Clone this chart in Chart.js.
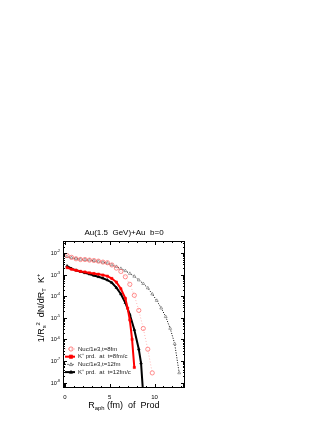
<!DOCTYPE html>
<html>
<head>
<meta charset="utf-8">
<script src="https://cdn.jsdelivr.net/npm/chart.js@4"></script>
<style>
  html, body { margin: 0; padding: 0; background: #fff; }
  #wrap { width: 332px; height: 430px; }
</style>
</head>
<body>
<div id="wrap"><canvas id="c" width="332" height="430"></canvas></div>
<script>
// Nucleons / 1e3 at t = 8 fm (red open circles, dotted)
const nuc8X = [0.25, 0.75, 1.25, 1.75, 2.25, 2.75, 3.25, 3.75, 4.25, 4.75,
               5.25, 5.75, 6.25, 6.75, 7.25, 7.75, 8.25, 8.75, 9.25, 9.75];
const nuc8Y = [7.6e-3, 6.3e-3, 5.4e-3, 5.0e-3, 5.0e-3, 4.7e-3, 4.5e-3, 4.2e-3, 3.8e-3, 3.55e-3,
               2.8e-3, 2.0e-3, 1.4e-3, 7.9e-4, 3.55e-4, 1.1e-4, 2.2e-5, 3.2e-6, 3.5e-7, 2.8e-8];

// K+ produced at t = 8 fm/c (red squares, solid)
const kp8X = [0.25, 0.75, 1.25, 1.75, 2.25, 2.75, 3.25, 3.75, 4.25, 4.75,
              5.25, 5.75, 6.25, 6.75, 7.0, 7.25, 7.5, 7.75];
const kp8Y = [2.1e-3, 1.78e-3, 1.58e-3, 1.41e-3, 1.32e-3, 1.2e-3, 1.12e-3, 1.05e-3, 9.5e-4, 8.5e-4,
              6.6e-4, 4.5e-4, 2.2e-4, 7.9e-5, 2.8e-5, 7.9e-6, 1.0e-6, 5.0e-8];

// Nucleons / 1e3 at t = 12 fm (small open triangles, dotted black)
const nuc12X = [0.25, 0.75, 1.25, 1.75, 2.25, 2.75, 3.25, 3.75, 4.25, 4.75, 5.25, 5.75, 6.25,
                6.75, 7.25, 7.75, 8.25, 8.75, 9.25, 9.75, 10.25, 10.75, 11.25, 11.75, 12.25, 12.75];
const nuc12Y = [6.8e-3, 6.0e-3, 5.5e-3, 5.1e-3, 4.9e-3, 4.7e-3, 4.4e-3, 4.1e-3, 3.7e-3, 3.4e-3, 2.8e-3, 2.35e-3, 1.9e-3,
                1.5e-3, 1.12e-3, 8.3e-4, 5.6e-4, 3.8e-4, 2.4e-4, 1.26e-4, 6.3e-5, 2.8e-5, 1.12e-5, 3.2e-6, 6.3e-7, 2.8e-8];

// K+ produced at t = 12 fm/c (black triangles, solid)
const kp12X = [0.25, 0.75, 1.25, 1.75, 2.25, 2.75, 3.25, 3.75, 4.25, 4.75,
               5.25, 5.75, 6.25, 6.75, 7.25, 7.75, 8.25, 8.5, 8.75];
const kp12Y = [2.5e-3, 1.9e-3, 1.58e-3, 1.38e-3, 1.2e-3, 1.05e-3, 9.1e-4, 7.9e-4, 6.8e-4, 5.6e-4,
               4.2e-4, 2.5e-4, 1.26e-4, 5.0e-5, 1.41e-5, 2.8e-6, 3.5e-7, 7.9e-8, 2.5e-9];

const labels = ['Nuc/1e3,t=8fm', 'K\u207A prd.  at  t=8fm/c', 'Nuc/1e3,t=12fm', 'K\u207A prd.  at  t=12fm/c'];

const xTickValues = [0, 5, 10];
const xTickLabels = ['0', '5', '10'];
const yTickExps = [-2, -3, -4, -5, -6, -7, -8];

const FONT = '"Liberation Sans", Arial, sans-serif';

function pts(xs, ys) {
    return xs.map((x, i) => ({ x: x, y: ys[i] }));
}

// draw text made of normal / sub / sup pieces
function richText(ctx, parts, x, y, size) {
    let cx = x;
    parts.forEach(p => {
        let s = size, dy = 0;
        if (p[1] === 'sub') { s = size * 0.65; dy = size * 0.3; }
        if (p[1] === 'sup') { s = size * 0.65; dy = -size * 0.4; }
        ctx.font = s + 'px ' + FONT;
        ctx.fillText(p[0], cx, y + dy);
        cx += ctx.measureText(p[0]).width;
    });
    return cx - x;
}
function richWidth(ctx, parts, size) {
    let w = 0;
    parts.forEach(p => {
        const s = p[1] === 'n' ? size : size * 0.65;
        ctx.font = s + 'px ' + FONT;
        w += ctx.measureText(p[0]).width;
    });
    return w;
}

const framePlugin = {
    id: 'frame',
    afterDraw(chart) {
        const ctx = chart.ctx;
        const a = chart.chartArea;
        const xs = chart.scales.x, ys = chart.scales.y;
        ctx.save();
        ctx.strokeStyle = '#000';
        ctx.fillStyle = '#000';
        ctx.lineWidth = 1;
        ctx.strokeRect(a.left + 0.5, a.top + 0.5, a.right - a.left - 1, a.bottom - a.top - 1);

        // x ticks (inward, bottom and top)
        ctx.beginPath();
        for (let v = 0; v <= 13; v++) {
            const px = Math.round(xs.getPixelForValue(v)) + 0.5;
            const len = v % 5 === 0 ? 4 : 2;
            ctx.moveTo(px, a.bottom); ctx.lineTo(px, a.bottom - len);
            ctx.moveTo(px, a.top); ctx.lineTo(px, a.top + len);
        }
        // y ticks (inward, left and right)
        for (let e = -9; e <= -2; e++) {
            for (let m = 1; m <= 9; m++) {
                const val = m * Math.pow(10, e);
                if (val < ys.min || val > ys.max) continue;
                const py = Math.round(ys.getPixelForValue(val)) + 0.5;
                const len = m === 1 ? 4 : 2;
                ctx.moveTo(a.left, py); ctx.lineTo(a.left + len, py);
                ctx.moveTo(a.right, py); ctx.lineTo(a.right - len, py);
            }
        }
        ctx.stroke();

        // x tick labels
        ctx.textBaseline = 'middle';
        ctx.textAlign = 'center';
        ctx.font = '6px ' + FONT;
        xTickValues.forEach((v, i) => {
            ctx.fillText(xTickLabels[i], xs.getPixelForValue(v), a.bottom + 9);
        });

        // y tick labels
        ctx.textAlign = 'left';
        yTickExps.forEach(e => {
            const parts = [['10', 'n'], [String(e), 'sup']];
            const w = richWidth(ctx, parts, 5.5);
            richText(ctx, parts, a.left - 3 - w, ys.getPixelForValue(Math.pow(10, e)) + 0.5, 5.5);
        });

        // title
        ctx.textAlign = 'center';
        ctx.font = '8px ' + FONT;
        ctx.fillText('Au(1.5  GeV)+Au  b=0', (a.left + a.right) / 2, a.top - 8);

        // x axis title
        ctx.textAlign = 'left';
        const xt = [['R', 'n'], ['aph', 'sub'], [' (fm)  of  Prod', 'n']];
        const xw = richWidth(ctx, xt, 9);
        richText(ctx, xt, (a.left + a.right) / 2 - xw / 2, a.bottom + 18, 9);

        // y axis title
        const yt = [['1/R', 'n'], ['s', 'sub'], ['2', 'sup'], ['  dN/dR', 'n'], ['T', 'sub'], ['  K', 'n'], ['+', 'sup']];
        const yw = richWidth(ctx, yt, 9);
        ctx.translate(a.left - 21, 308);
        ctx.rotate(-Math.PI / 2);
        richText(ctx, yt, -yw / 2, 0, 9);
        ctx.restore();

        // legend inside plot area
        ctx.save();
        const lx = a.left + 2, ly0 = a.bottom - 39, step = 7.7;
        chart.data.datasets.forEach((ds, i) => {
            const y = ly0 + i * step;
            ctx.strokeStyle = ds.borderColor;
            ctx.lineWidth = ds.borderWidth;
            ctx.setLineDash(ds.borderDash || []);
            ctx.beginPath();
            ctx.moveTo(lx, y); ctx.lineTo(lx + 10, y);
            ctx.stroke();
            ctx.setLineDash([]);
            ctx.lineWidth = 0.8;
            ctx.fillStyle = ds.pointBackgroundColor;
            ctx.strokeStyle = ds.pointBorderColor;
            const cx = lx + 6, r = ds.pointRadius;
            ctx.beginPath();
            if (ds.pointStyle === 'circle') {
                ctx.arc(cx, y, r, 0, Math.PI * 2);
            } else if (ds.pointStyle === 'rect') {
                ctx.rect(cx - r, y - r, 2 * r, 2 * r);
            } else {
                ctx.moveTo(cx, y - r); ctx.lineTo(cx + r, y + r * 0.7); ctx.lineTo(cx - r, y + r * 0.7); ctx.closePath();
            }
            ctx.fill(); ctx.stroke();
            ctx.fillStyle = '#222';
            ctx.font = '6px ' + FONT;
            ctx.textAlign = 'left';
            ctx.textBaseline = 'middle';
            ctx.fillText(ds.label, lx + 13, y);
        });
        ctx.restore();
    }
};

new Chart(document.getElementById('c').getContext('2d'), {
    type: 'line',
    data: {
        datasets: [{
            label: labels[0],
            data: pts(nuc8X, nuc8Y),
            borderColor: '#ffb8b8',
            borderWidth: 1,
            borderDash: [1, 2],
            pointStyle: 'circle',
            pointRadius: 2.1,
            pointBackgroundColor: 'rgba(255,255,255,0)',
            pointBorderColor: '#ff6060',
            pointBorderWidth: 0.7
        }, {
            label: labels[1],
            data: pts(kp8X, kp8Y),
            borderColor: '#ff0000',
            borderWidth: 2,
            pointStyle: 'rect',
            pointRadius: 1.6,
            pointBackgroundColor: '#ff0000',
            pointBorderColor: '#ff0000',
            pointBorderWidth: 0.5
        }, {
            label: labels[2],
            data: pts(nuc12X, nuc12Y),
            borderColor: '#000000',
            borderWidth: 1,
            borderDash: [1, 1.5],
            pointStyle: 'triangle',
            pointRadius: 1.7,
            pointBackgroundColor: '#ffffff',
            pointBorderColor: '#666666',
            pointBorderWidth: 0.6
        }, {
            label: labels[3],
            data: pts(kp12X, kp12Y),
            borderColor: '#000000',
            borderWidth: 2,
            pointStyle: 'triangle',
            pointRadius: 1.6,
            pointBackgroundColor: '#000000',
            pointBorderColor: '#000000',
            pointBorderWidth: 0.5
        }]
    },
    options: {
        responsive: false,
        animation: false,
        devicePixelRatio: 1,
        layout: { padding: { left: 63, right: 147, top: 241, bottom: 42 } },
        plugins: { legend: { display: false }, tooltip: { enabled: false }, title: { display: false } },
        elements: { line: { tension: 0 } },
        scales: {
            x: { type: 'linear', min: -0.2, max: 13.4, display: false },
            y: { type: 'logarithmic', min: 5.6e-9, max: 3.6e-2, display: false }
        }
    },
    plugins: [framePlugin]
});
</script>
</body>
</html>
